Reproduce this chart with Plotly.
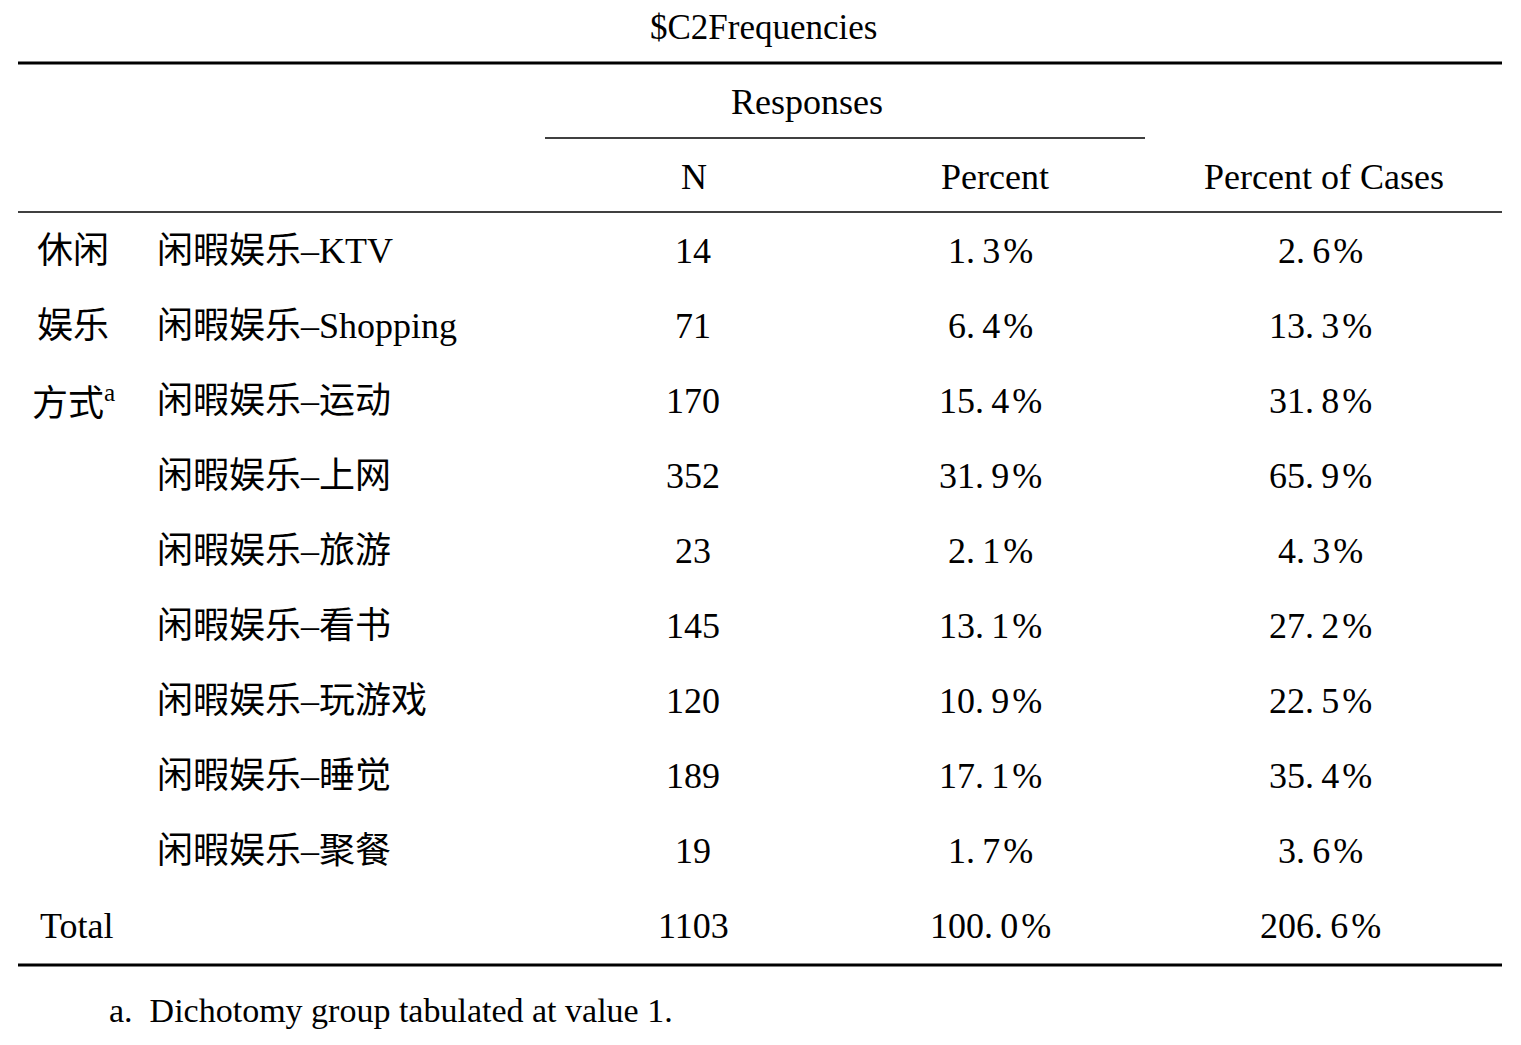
import plotly.graph_objects as go

# Table contents
title = "$C2Frequencies"
group_label = ["休闲", "娱乐", "方式<sup>a</sup>"]
items = ["闲暇娱乐–KTV", "闲暇娱乐–Shopping", "闲暇娱乐–运动", "闲暇娱乐–上网",
         "闲暇娱乐–旅游", "闲暇娱乐–看书", "闲暇娱乐–玩游戏", "闲暇娱乐–睡觉",
         "闲暇娱乐–聚餐"]
n_resp = [14, 71, 170, 352, 23, 145, 120, 189, 19]
pct_resp = [1.3, 6.4, 15.4, 31.9, 2.1, 13.1, 10.9, 17.1, 1.7]
pct_cases = [2.6, 13.3, 31.8, 65.9, 4.3, 27.2, 22.5, 35.4, 3.6]
total_n = 1103
total_pct = 100.0
total_cases = 206.6
col_headers = ["N", "Percent", "Percent of Cases"]
footnote = "a.  Dichotomy group tabulated at value 1."

FONT = "Liberation Serif, 'Noto Sans CJK SC', serif"
W, H = 1521, 1045
PAD = 8  # the page body adds an 8px margin
ROW0, STEP = 251, 75  # pixel centre of first body row and row pitch

# column centres / left edges (pixels in the reference)
X_GROUP, X_ITEM, X_TOTAL = 73, 155, 38
X_N, X_PCT, X_CASES = 693, 990, 1320
X_HDR = [694, 995, 1324]
X_LEFT, X_RIGHT = 18, 1502


def row_y(px):
    # convert a pixel height into row units
    return (px - ROW0) / STEP


def fmt_pct(v):
    # the source font has a wide full stop; mimic it with a thin space
    return f"{v:.1f}".replace(".", ".\u2009") + "\u200a%"


fig = go.Figure()
ann = []


def text(x, y, s, anchor="center", size=36):
    ann.append(dict(x=x, y=y, xref="x", yref="y", text=s, showarrow=False,
                    xanchor=anchor, yanchor="middle",
                    font=dict(family=FONT, size=size, color="#000")))


# title sits a touch lower so its box stays inside the page
text(763, row_y(27), title, size=35)
text(807, row_y(102), "Responses")
for x, h in zip(X_HDR, col_headers):
    text(x, row_y(177), h)

for i, g in enumerate(group_label):
    text(X_GROUP, i, g)

for i, lab in enumerate(items):
    text(X_ITEM, i, lab, anchor="left")
    text(X_N, i, str(n_resp[i]))
    text(X_PCT, i, fmt_pct(pct_resp[i]))
    text(X_CASES, i, fmt_pct(pct_cases[i]))

t = len(items)
text(X_TOTAL, t, "Total", anchor="left")
text(X_N, t, str(total_n))
text(X_PCT, t, fmt_pct(total_pct))
text(X_CASES, t, fmt_pct(total_cases))

text(107, row_y(1010), footnote, anchor="left", size=34)

shapes = []


def hline(x0, x1, y, w):
    shapes.append(dict(type="line", xref="x", yref="y", x0=x0, x1=x1,
                       y0=y, y1=y, line=dict(color="#000", width=w)))


hline(X_LEFT, X_RIGHT, row_y(63), 3)
hline(545, 1145, row_y(138), 1.5)
hline(X_LEFT, X_RIGHT, row_y(212), 1.5)
hline(X_LEFT, X_RIGHT, row_y(965), 3)

fig.update_layout(
    width=W - PAD,
    height=H - PAD,
    margin=dict(l=0, r=0, t=0, b=0),
    paper_bgcolor="white",
    plot_bgcolor="white",
    showlegend=False,
    annotations=ann,
    shapes=shapes,
    xaxis=dict(range=[PAD, W], visible=False, fixedrange=True),
    yaxis=dict(range=[row_y(H), row_y(PAD)], visible=False, fixedrange=True),
)

fig.write_html("out.html")
